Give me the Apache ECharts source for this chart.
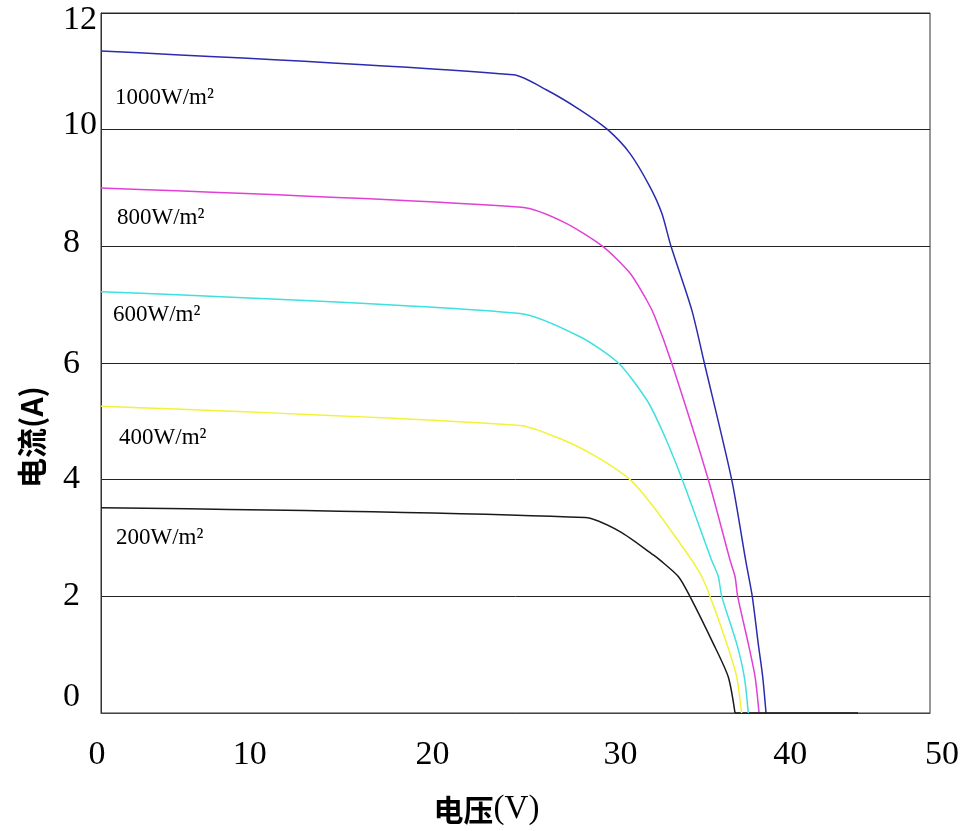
<!DOCTYPE html>
<html>
<head>
<meta charset="utf-8">
<script src="https://cdn.jsdelivr.net/npm/echarts@6/dist/echarts.min.js"></script>
<style>
html,body{margin:0;padding:0;background:#fff;}
#chart{width:967px;height:831px;}
</style>
</head>
<body>
<div id="chart"></div>
<script>
// ---- data (voltage V, current A) ----
const seriesNames = ['1000W/m²', '800W/m²', '600W/m²', '400W/m²', '200W/m²'];

const curve1000 = [[0,11.35],[24.87,10.94],[26.88,10.68],[28.89,10.34],[30.56,10.0],[31.91,9.59],[33.11,9.02],[33.82,8.57],[34.38,8.0],[35.63,6.91],[36.39,6.0],[38.04,4.0],[38.88,2.62],[39.28,2.0],[39.64,1.19],[39.91,0.62],[40.11,0]];
const curve800 = [[0,9.0],[25.37,8.67],[27.88,8.42],[30.26,8.0],[31.91,7.54],[32.91,7.08],[33.41,6.79],[34.42,6.0],[36.63,4.0],[37.94,2.62],[38.24,2.34],[38.40,2.0],[39.04,1.19],[39.45,0.62],[39.69,0]];
const curve600 = [[0,7.22],[25.27,6.85],[28.89,6.45],[31.20,6.0],[32.91,5.37],[33.91,4.80],[35.06,4.0],[36.83,2.62],[37.23,2.34],[37.44,2.0],[38.34,1.19],[38.80,0.62],[39.04,0]];
const curve400 = [[0,5.26],[25.27,4.93],[27.88,4.68],[29.90,4.39],[31.91,4.0],[33.31,3.54],[34.92,2.91],[35.63,2.62],[36.23,2.34],[36.73,2.0],[37.74,1.19],[38.34,0.62],[38.64,0]];
const curve200 = [[0,3.52],[29.19,3.35],[31.30,3.11],[33.31,2.71],[33.72,2.62],[34.82,2.34],[35.52,2.0],[36.93,1.19],[37.83,0.62],[38.24,0]];
// the 200 W/m² trace continues along zero current
const curve200Tail = [[38.24,0],[45.66,0]];

const xTicks = [0, 10, 20, 30, 40, 50];
const yTicks = [0, 2, 4, 6, 8, 10, 12];

// label anchor points (data coordinates) for the irradiance annotations
const labelAt = [[0.84,10.54],[0.96,8.49],[0.72,6.82],[1.09,4.71],[0.9,3.0]];

// ---- styles ----
const curves = [curve1000, curve800, curve600, curve400, curve200];
const colors = ['#2b2bb0', '#e23fd6', '#3fe0e0', '#f2f23a', '#1a1a1a'];
const serif = "'Liberation Serif','Times New Roman',serif";
const cjk = "'Noto Sans CJK SC','Noto Sans',sans-serif";

// per-label nudges (pixels) to match the reference placement
const xShift = {0:-4, 10:-17, 20:0, 30:22, 40:26, 50:12};
const yShift = {0:-16, 2:0, 4:-1, 6:1, 8:-3, 10:-5, 12:7};

const xRich = {};
xTicks.forEach(v => {
  const d = xShift[v];
  xRich['x' + v] = {fontFamily: serif, fontSize: 34, color: '#000',
    padding: d >= 0 ? [0, 0, 0, 2 * d] : [0, -2 * d, 0, 0]};
});
const yRich = {};
yTicks.forEach(v => {
  const d = yShift[v];
  yRich['y' + v] = {fontFamily: serif, fontSize: 34, color: '#000',
    padding: d >= 0 ? [2 * d, 0, 0, 0] : [0, 0, -2 * d, 0]};
});

const chart = echarts.init(document.getElementById('chart'), null, {renderer: 'canvas'});

chart.setOption({
  animation: false,
  backgroundColor: '#fff',
  grid: {left: 101, right: 37, top: 13, bottom: 118, show: true, borderColor: '#333', borderWidth: 1},
  xAxis: {
    type: 'value', min: 0, max: 50, interval: 10,
    name: '{a|电压}{b|(V)}', nameLocation: 'middle', nameGap: 80,
    nameTextStyle: {
      padding: [0, 58, 0, 0],
      rich: {
        a: {fontFamily: cjk, fontWeight: 'bold', fontSize: 30, color: '#000'},
        b: {fontFamily: serif, fontSize: 33, color: '#000'}
      }
    },
    axisLine: {show: true, lineStyle: {color: '#444', width: 1}},
    axisTick: {show: false},
    splitLine: {show: false},
    axisLabel: {margin: 25, formatter: v => '{x' + v + '|' + v + '}', rich: xRich}
  },
  yAxis: {
    type: 'value', min: 0, max: 12, interval: 2,
    name: '电流(A)', nameLocation: 'middle', nameGap: 54, nameRotate: 90,
    nameTextStyle: {fontFamily: cjk, fontWeight: 'bold', fontSize: 30, color: '#000', padding: [0, 148, 0, 0]},
    axisLine: {show: true, lineStyle: {color: '#333', width: 1}},
    axisTick: {show: false},
    splitLine: {show: true, lineStyle: {color: '#222', width: 1}},
    axisLabel: {margin: 38, align: 'left', formatter: v => '{y' + v + '|' + v + '}', rich: yRich}
  },
  series: curves.map((c, i) => {
    const s = {
      name: seriesNames[i],
      type: 'line',
      data: c,
      showSymbol: false,
      smooth: 0.25,
      lineStyle: {color: colors[i], width: 1.5},
      itemStyle: {color: colors[i]},
      z: 3 + i,
      markPoint: {
        symbol: 'circle', symbolSize: 0, silent: true,
        itemStyle: {color: 'transparent'},
        label: {show: true, position: 'right', distance: 0, formatter: seriesNames[i],
          fontFamily: serif, fontSize: 23, color: '#000'},
        data: [{coord: labelAt[i], value: seriesNames[i]}]
      }
    };
    if (i === 4) {
      s.markLine = {
        silent: true, symbol: 'none', label: {show: false},
        lineStyle: {color: colors[i], width: 1.5, type: 'solid'},
        data: [[{coord: curve200Tail[0]}, {coord: curve200Tail[1]}]]
      };
    }
    return s;
  })
});
</script>
</body>
</html>
